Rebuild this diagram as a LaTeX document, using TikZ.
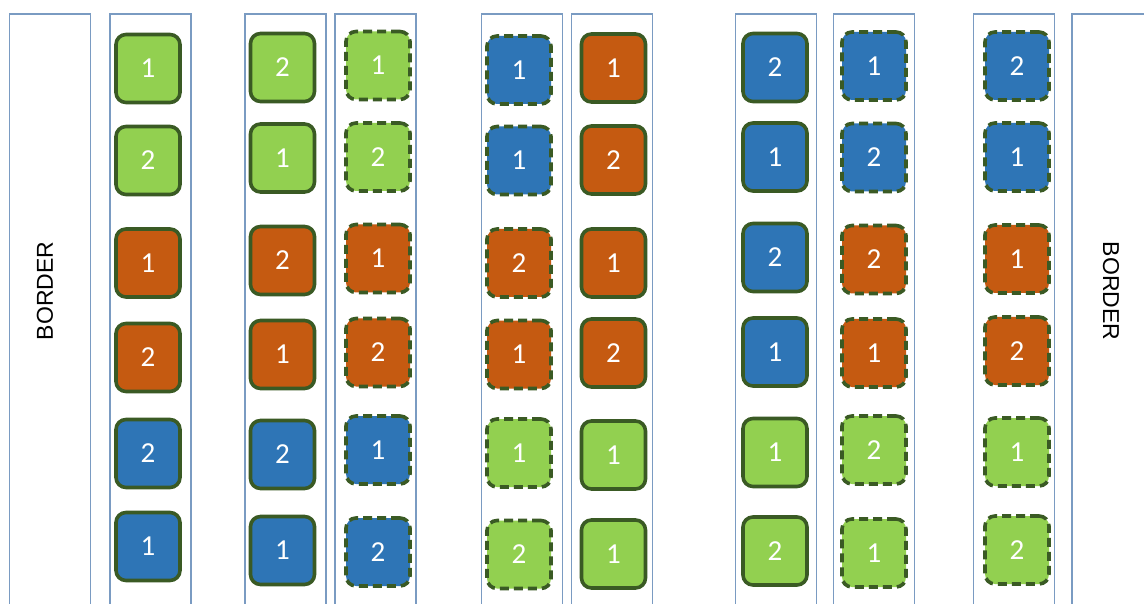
\documentclass[tikz,border=0pt]{standalone}
\usepackage{fontspec}
\setmainfont{Carlito}
\newfontfamily\bordfont{Liberation Sans}
\definecolor{G}{HTML}{92D050}
\definecolor{O}{HTML}{C55A11}
\definecolor{B}{HTML}{2E75B6}
\definecolor{edge}{HTML}{3A5A24}
\definecolor{colline}{HTML}{7A9BC2}
\tikzset{
  tile/.style={rounded corners=10pt, draw=edge, line width=3.6pt, minimum width=64pt,
    minimum height=68pt, inner sep=0pt, text=white, font=\fontsize{29}{29}\selectfont},
  dtile/.style={tile, dash pattern=on 9pt off 5pt},
  lane/.style={draw=colline, line width=1.6pt, minimum width=81pt, minimum height=620pt,
    inner sep=0pt, anchor=north},
  bord/.style={font=\bordfont\fontsize{23}{23}\selectfont, text=black}
}
\begin{document}
\begin{tikzpicture}[x=1pt,y=-1pt]
\useasboundingbox (0,0) rectangle (1144,604);
\clip (0,0) rectangle (1144,604);
\fill[white] (0,0) rectangle (1144,604);
% lanes
\node[lane] (lb) at (50,13) {};
\node[lane] (l1) at (150.5,13) {};
\node[lane] (l2) at (285.5,13) {};
\node[lane] (l3) at (375.5,13) {};
\node[lane] (l4) at (522,13) {};
\node[lane] (l5) at (612,13) {};
\node[lane] (l6) at (776,13) {};
\node[lane] (l7) at (874,13) {};
\node[lane] (l8) at (1014,13) {};
\node[lane, minimum width=120pt] (rb) at (1132,13) {};
\node[bord, rotate=90] (tl) at (45,291) {BORDER};
\node[bord, rotate=-90] (tr) at (1111,291) {BORDER};
% column 1
\foreach \y/\c/\n [count=\r] in {68.5/G/1,160.5/G/2,263/O/1,357.5/O/2,453.5/B/2,546.5/B/1}
  \node[tile, fill=\c] (a\r) at (148,\y) {\n};
% column 2
\foreach \y/\c/\n [count=\r] in {67.5/G/2,158/G/1,260.5/O/2,354.5/O/1,454.5/B/2,550.5/B/1}
  \node[tile, fill=\c] (b\r) at (282.5,\y) {\n};
% column 3
\foreach \y/\c/\n [count=\r] in {65.5/G/1,157/G/2,258.5/O/1,352.5/O/2,450/B/1,552/B/2}
  \node[dtile, fill=\c] (c\r) at (378,\y) {\n};
% column 4
\foreach \y/\c/\n [count=\r] in {70/B/1,160.5/B/1,263/O/2,354.5/O/1,453/G/1,554.5/G/2}
  \node[dtile, fill=\c] (d\r) at (519,\y) {\n};
% column 5
\foreach \y/\c/\n [count=\r] in {68/O/1,160/O/2,263/O/1,353/O/2,455/G/1,554/G/1}
  \node[tile, fill=\c] (e\r) at (613.5,\y) {\n};
% column 6
\foreach \y/\c/\n [count=\r] in {67.5/B/2,157/B/1,257.5/B/2,352/B/1,452.5/G/1,551/G/2}
  \node[tile, fill=\c] (f\r) at (775,\y) {\n};
% column 7
\foreach \y/\c/\n [count=\r] in {66/B/1,157.5/B/2,259.5/O/2,353/O/1,450/G/2,553/G/1}
  \node[dtile, fill=\c] (g\r) at (874,\y) {\n};
% column 8
\foreach \y/\c/\n [count=\r] in {66/B/2,157/B/1,259/O/1,351/O/2,452/G/1,550/G/2}
  \node[dtile, fill=\c] (h\r) at (1017,\y) {\n};
\end{tikzpicture}
\end{document}
